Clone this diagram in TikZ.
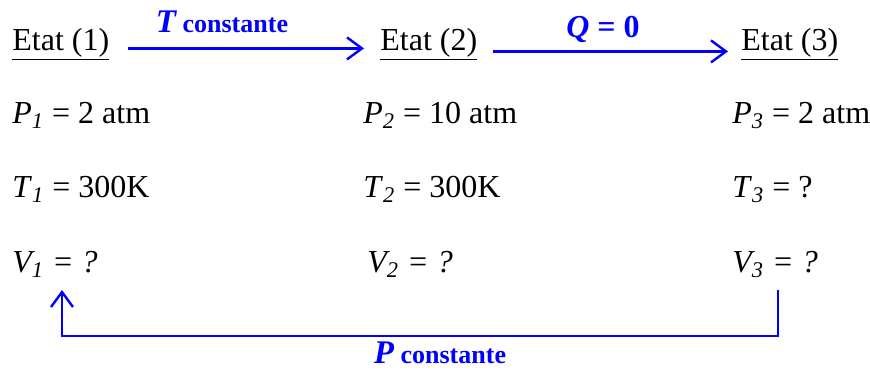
\documentclass[tikz,border=0pt]{standalone}
\usepackage{fontspec}
\setmainfont{Liberation Serif}
\usetikzlibrary{arrows.meta}
\newcommand{\ix}[2]{\textit{#1}\textsubscript{\textit{#2}}}

\begin{document}
\begin{tikzpicture}[x=0.5pt,y=-0.5pt,
    val/.style={anchor=base west,inner sep=0pt,font=\fontsize{16}{19}\selectfont},
    lbl/.style={anchor=base,inner sep=0pt,text=blue,font=\fontsize{13}{16}\selectfont\bfseries},
    flow/.style={blue,line width=1.2pt,-{Straight Barb[length=7.5pt,width=11pt]}}]
  \useasboundingbox (0,0) rectangle (870,370);
  % etats
  \node[val] (e1) at (12,50) {\underline{Etat (1)}};
  \node[val] (e2) at (380,50) {\underline{Etat (2)}};
  \node[val] (e3) at (741,50) {\underline{Etat (3)}};
  % grandeurs
  \node[val] (p1) at (12,123) {\ix{P}{1} = 2 atm};
  \node[val] (p2) at (363,123) {\ix{P}{2} = 10 atm};
  \node[val] (p3) at (732,123) {\ix{P}{3} = 2 atm};
  \node[val] (t1) at (12,197) {\ix{T}{1} = 300K};
  \node[val] (t2) at (363,197) {\ix{T}{2} = 300K};
  \node[val] (t3) at (732,197) {\ix{T}{3} = ?};
  \node[val] (v1) at (12,272) {\textit{V\textsubscript{1} = ?}};
  \node[val] (v2) at (367,272) {\textit{V\textsubscript{2} = ?}};
  \node[val] (v3) at (732,272) {\textit{V\textsubscript{3} = ?}};
  % transformations
  \draw[flow] ([xshift=9pt,yshift=-1.5pt]e1.mid east) -- ([xshift=-8pt,yshift=-1.5pt]e2.mid west);
  \node[lbl] (tc) at (222,32) {{\fontsize{16.5}{19}\selectfont\itshape T} constante};
  \draw[flow] ([xshift=7.5pt,yshift=-3pt]e2.mid east) -- ([xshift=-6.5pt,yshift=-3pt]e3.mid west);
  \node[lbl] (q0) at (603,37) {\fontsize{16}{19}\selectfont\textit{Q} = 0};
  \coordinate (r) at (778,290);
  \coordinate (l) at (62,290);
  \draw[flow] (r) -- ++(0,46) -| (l);
  \node[lbl] (pc) at (440,363) {{\fontsize{16.5}{19}\selectfont\itshape P} constante};
\end{tikzpicture}
\end{document}
